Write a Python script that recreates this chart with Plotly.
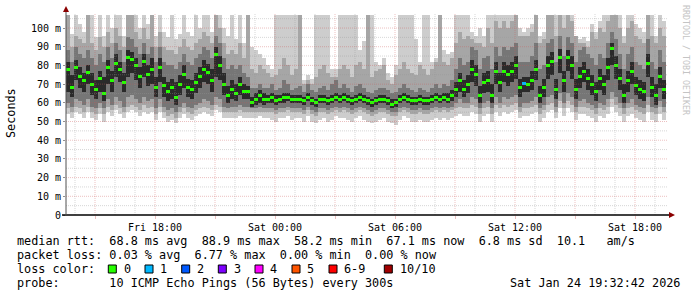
import plotly.graph_objects as go
import pandas as pd

# ---------------- data ----------------
T0 = "2026-01-23 13:33:00"          # graph start (Fri)
SPAN_H = 30                          # graph span in hours
BIN_MIN = 12                         # consolidation step (minutes)

median_ms = [
    78, 68, 79, 74, 72, 76, 70, 67, 73, 65,
    79, 72, 81, 78, 71, 84, 83, 80, 74, 82,
    75, 78, 68, 79, 69, 66, 68, 63, 70, 75,
    68, 67, 71, 74, 78, 76, 72, 86, 80, 70,
    64, 67, 65, 70, 66, 66, 60, 62, 64, 62,
    62, 63, 61, 62, 63, 63, 62, 62, 62, 61,
    63, 61, 60, 62, 62, 61, 62, 63, 62, 63,
    62, 61, 62, 63, 62, 61, 60, 61, 62, 62,
    61, 59, 60, 62, 63, 62, 61, 61, 62, 61,
    61, 62, 63, 62, 63, 62, 64, 67, 72, 67,
    70, 78, 75, 64, 71, 72, 64, 77, 71, 77,
    75, 77, 80, 68, 70.5, 70, 72, 78, 64, 68,
    80, 82, 67, 84, 72, 84, 80, 67, 74, 77,
    73, 70, 66, 73, 70, 79, 89, 80, 73, 64,
    72, 77, 69, 67, 66, 81, 68, 64, 74, 67,
]

# number of lost pings (of 10) per step
loss = [
    0, 0, 0, 0, 0, 0, 0, 0, 0, 0,  0, 0, 0, 0, 0, 0, 0, 0, 0, 0,
    0, 0, 0, 0, 0, 0, 0, 0, 0, 0,  0, 0, 0, 0, 0, 0, 0, 0, 0, 0,
    0, 0, 0, 0, 0, 0, 0, 0, 0, 0,  0, 0, 0, 0, 0, 0, 0, 0, 0, 0,
    0, 0, 0, 0, 0, 0, 0, 0, 0, 0,  0, 0, 0, 0, 0, 0, 0, 0, 0, 0,
    0, 0, 0, 0, 0, 0, 0, 0, 0, 0,  0, 0, 0, 0, 0, 0, 0, 0, 0, 0,
    0, 0, 0, 0, 0, 0, 0, 0, 0, 0,  0, 0, 0, 0, 1, 0, 0, 0, 0, 0,
    0, 0, 0, 0, 0, 0, 0, 0, 0, 0,  0, 0, 0, 0, 0, 0, 0, 0, 0, 0,
    0, 0, 0, 0, 0, 0, 0, 0, 0, 0,
]

# smoke: sorted ping pairs (outer -> inner), ms
p1_lo = [
    54, 52, 55, 54, 52, 55, 52, 51, 54, 50,
    55, 53, 56, 54, 52, 55, 56, 55, 53, 55,
    54, 55, 51, 55, 52, 50, 51, 49, 52, 54,
    52, 51, 53, 54, 55, 54, 53, 56, 55, 52,
    52, 52, 52, 53, 52, 52, 52, 52, 53, 52,
    52, 51, 50, 52, 52, 53, 51, 52, 52, 50,
    53, 50, 49, 51, 52, 50, 51, 53, 52, 52,
    51, 50, 52, 53, 51, 50, 49, 50, 51, 52,
    50, 49, 48, 51, 53, 52, 50, 50, 51, 50,
    50, 51, 52, 51, 52, 51, 52, 53, 54, 53,
    53, 55, 54, 50, 53, 54, 50, 55, 53, 55,
    54, 55, 56, 52, 53, 53, 54, 55, 50, 52,
    55, 56, 52, 57, 53, 57, 55, 51, 54, 54,
    53, 52, 50, 53, 52, 54, 58, 55, 53, 50,
    53, 54, 52, 51, 50, 55, 51, 50, 54, 51,
]
p1_hi = [
    107, 97, 107, 102, 98, 107, 107, 95, 107, 96,
    107, 100, 107, 107, 96, 107, 107, 107, 100, 107,
    102, 107, 96, 107, 98, 95, 107, 94, 97, 107,
    98, 96, 107, 100, 107, 107, 98, 107, 107, 100,
    96, 107, 94, 107, 92, 107, 90, 88, 86, 84,
    80, 78, 107, 107, 107, 107, 107, 107, 107, 72,
    75, 73, 107, 107, 107, 107, 78, 78, 107, 107,
    107, 107, 107, 88, 93, 107, 107, 82, 80, 84,
    76, 74, 80, 107, 107, 107, 107, 94, 82, 107,
    107, 82, 84, 107, 88, 86, 87, 107, 107, 107,
    107, 98, 96, 100, 96, 107, 107, 107, 107, 107,
    107, 107, 107, 100, 98, 100, 102, 107, 96, 98,
    107, 107, 107, 107, 107, 107, 107, 96, 94, 95,
    93, 102, 98, 104, 107, 107, 107, 107, 107, 96,
    107, 107, 102, 100, 98, 107, 107, 96, 107, 104,
]
p2_lo = [
    57, 55, 58, 57, 55, 58, 55, 54, 57, 54,
    58, 56, 59, 57, 55, 58, 59, 58, 56, 59,
    57, 58, 54, 58, 55, 53, 54, 52, 55, 57,
    55, 54, 56, 57, 58, 57, 56, 59, 58, 55,
    55, 55, 55, 56, 55, 55, 55, 55, 55, 55,
    55, 55, 54, 55, 55, 56, 55, 55, 55, 54,
    56, 54, 53, 55, 55, 54, 55, 56, 55, 56,
    55, 54, 55, 56, 55, 54, 53, 54, 55, 55,
    54, 53, 53, 55, 56, 55, 54, 54, 55, 54,
    54, 55, 56, 55, 56, 55, 56, 57, 58, 57,
    57, 59, 58, 54, 57, 58, 54, 59, 57, 59,
    58, 59, 60, 55, 57, 57, 58, 59, 54, 56,
    59, 60, 55, 61, 57, 61, 59, 55, 58, 58,
    57, 56, 54, 57, 56, 58, 62, 59, 57, 54,
    57, 58, 56, 55, 54, 59, 55, 54, 58, 55,
]
p2_hi = [
    107, 90, 96, 94, 92, 107, 92, 88, 95, 90,
    98, 92, 100, 96, 90, 107, 107, 98, 94, 100,
    94, 107, 90, 98, 90, 88, 88, 86, 90, 94,
    90, 88, 92, 94, 98, 96, 92, 107, 100, 92,
    86, 88, 86, 92, 84, 107, 78, 76, 80, 78,
    76, 74, 75, 78, 84, 80, 75, 78, 107, 70,
    72, 70, 74, 78, 80, 76, 74, 74, 78, 80,
    78, 74, 80, 82, 78, 107, 74, 77, 78, 80,
    72, 70, 75, 78, 82, 78, 76, 75, 80, 78,
    75, 78, 82, 107, 82, 80, 84, 92, 98, 94,
    96, 94, 92, 92, 90, 100, 92, 104, 100, 104,
    100, 104, 107, 96, 96, 96, 98, 107, 92, 94,
    107, 107, 96, 107, 100, 107, 104, 96, 92, 92,
    90, 98, 94, 100, 98, 104, 107, 107, 100, 92,
    100, 104, 96, 94, 92, 107, 96, 92, 100, 96,
]
p3_lo = [
    60, 58, 62, 61, 59, 62, 58, 57, 60, 57,
    62, 59, 63, 61, 58, 63, 64, 62, 60, 63,
    61, 62, 57, 62, 58, 56, 57, 55, 58, 60,
    58, 57, 59, 60, 62, 61, 59, 63, 62, 58,
    57, 58, 58, 59, 58, 58, 57, 57, 58, 57,
    57, 57, 56, 57, 57, 58, 57, 57, 57, 56,
    58, 56, 55, 57, 57, 56, 57, 58, 57, 58,
    57, 56, 57, 58, 57, 56, 55, 56, 57, 57,
    56, 55, 55, 57, 58, 57, 56, 56, 57, 56,
    56, 57, 58, 57, 58, 57, 58, 60, 62, 60,
    60, 63, 62, 57, 60, 61, 57, 63, 60, 63,
    62, 63, 64, 58, 60, 60, 61, 63, 57, 59,
    63, 64, 58, 65, 60, 65, 63, 58, 61, 62,
    60, 59, 57, 60, 59, 62, 66, 63, 60, 57,
    60, 62, 59, 58, 57, 63, 58, 57, 61, 58,
]
p3_hi = [
    88, 82, 90, 86, 84, 88, 84, 80, 86, 82,
    90, 84, 92, 88, 82, 95, 94, 90, 86, 92,
    86, 90, 82, 90, 82, 80, 80, 78, 82, 86,
    82, 80, 84, 86, 90, 88, 84, 96, 92, 84,
    78, 80, 78, 80, 76, 74, 68, 68, 70, 68,
    68, 70, 67, 68, 72, 70, 67, 68, 69, 66,
    70, 67, 66, 68, 69, 67, 70, 72, 68, 70,
    68, 66, 69, 70, 68, 66, 65, 67, 68, 68,
    67, 65, 66, 68, 70, 68, 67, 66, 68, 67,
    66, 68, 70, 68, 70, 69, 72, 78, 84, 80,
    82, 90, 88, 78, 84, 85, 78, 90, 85, 90,
    88, 90, 92, 82, 82, 82, 85, 92, 78, 80,
    92, 94, 82, 96, 85, 95, 92, 82, 88, 90,
    86, 84, 80, 86, 84, 92, 98, 94, 86, 78,
    86, 90, 82, 80, 78, 94, 82, 78, 88, 82,
]
p4_lo = [
    66, 63, 72, 68, 66, 70, 64, 62, 66, 61,
    70, 66, 74, 71, 66, 74, 76, 72, 68, 74,
    69, 70, 63, 71, 63, 61, 62, 59, 64, 68,
    63, 62, 65, 68, 71, 70, 66, 74, 72, 64,
    60, 62, 61, 64, 62, 62, 58, 59, 60, 59,
    60, 60, 59, 60, 60, 61, 60, 60, 60, 59,
    61, 59, 58, 60, 60, 59, 60, 61, 60, 61,
    60, 59, 60, 61, 60, 59, 58, 59, 60, 60,
    59, 57, 58, 60, 61, 60, 59, 59, 60, 59,
    59, 60, 61, 60, 61, 60, 61, 63, 66, 63,
    65, 71, 69, 60, 65, 66, 60, 70, 66, 71,
    69, 71, 73, 63, 66, 66, 67, 72, 60, 63,
    73, 75, 62, 76, 66, 77, 73, 62, 68, 71,
    67, 64, 61, 67, 64, 72, 80, 73, 67, 60,
    66, 70, 64, 62, 61, 74, 63, 59, 68, 62,
]
p4_hi = [
    82, 75, 83, 79, 76, 80, 76, 72, 77, 74,
    83, 77, 86, 82, 76, 88, 87, 84, 79, 86,
    80, 84, 74, 84, 74, 71, 73, 71, 75, 80,
    73, 72, 76, 79, 83, 81, 78, 90, 85, 76,
    69, 72, 70, 74, 70, 69, 63, 65, 67, 65,
    64, 65, 64, 64, 65, 65, 64, 64, 64, 63,
    65, 63, 62, 64, 64, 63, 64, 65, 64, 65,
    64, 63, 64, 65, 64, 63, 62, 63, 64, 64,
    63, 62, 62, 64, 65, 64, 63, 63, 64, 63,
    63, 64, 65, 64, 65, 65, 67, 71, 76, 72,
    75, 83, 80, 69, 76, 77, 70, 82, 76, 82,
    80, 82, 85, 73, 74, 74, 77, 83, 69, 73,
    85, 87, 73, 89, 77, 88, 85, 73, 79, 82,
    78, 75, 71, 78, 75, 84, 92, 85, 78, 70,
    77, 82, 74, 72, 71, 86, 74, 70, 79, 72,
]

loss_labels = ["0", "1", "2", "3", "4", "5", "6-9", "10/10"]
loss_colors = ["#26ff00", "#00b8ff", "#0059ff", "#7e00ff",
               "#ff00ff", "#ff5500", "#ff0000", "#a00000"]
y_ticks = [0, 10, 20, 30, 40, 50, 60, 70, 80, 90, 100]
y_tick_text = ["0"] + [f"{v} m" for v in y_ticks[1:]]

stat_line1 = "median rtt:  68.8 ms avg  88.9 ms max  58.2 ms min  67.1 ms now  6.8 ms sd  10.1   am/s"
stat_line2 = "packet loss: 0.03 % avg  6.77 % max  0.00 % min  0.00 % now"
probe_line = "probe:       10 ICMP Echo Pings (56 Bytes) every 300s"
stamp = "Sat Jan 24 19:32:42 2026"

# ---------------- figure ----------------
FONT = "DejaVu Sans Mono"
W, H = 697, 297
L, R, T, B = 66, 31, 14, 82
PW, PH = W - L - R, H - T - B


def fx(px):
    return (px - L) / PW


def fy(py):
    return (H - B - py) / PH


def nb(s):
    return s.replace(" ", "\u00a0")


t0 = pd.Timestamp(T0)
t1 = t0 + pd.Timedelta(hours=SPAN_H)
n = len(median_ms)
xs = [t0 + pd.Timedelta(minutes=BIN_MIN * (i + 0.5)) for i in range(n)]
bw = BIN_MIN * 60 * 1000

fig = go.Figure()
layers = [(p1_lo, p1_hi, "#cdcdcd"), (p2_lo, p2_hi, "#a6a6a6"),
          (p3_lo, p3_hi, "#767676"), (p4_lo, p4_hi, "#2a2a2a")]
for lo, hi, col in layers:
    fig.add_trace(go.Bar(x=xs, base=lo, y=[h - l for l, h in zip(lo, hi)],
                         width=bw, marker=dict(color=col, line=dict(width=0)),
                         hoverinfo="skip"))


def loss_col(k):
    idx = k if k <= 5 else (6 if k < 10 else 7)
    return loss_colors[idx]


fig.add_trace(go.Bar(x=xs, base=[m - 0.8 for m in median_ms], y=[1.6] * n,
                     width=bw, marker=dict(color=[loss_col(k) for k in loss], line=dict(width=0)),
                     hoverinfo="skip"))

shapes = []
MAJ = "rgba(205,90,90,0.38)"
MIN = "rgba(150,150,150,0.38)"
for v in range(5, 106, 5):
    shapes.append(dict(type="line", xref="paper", yref="y", x0=0, x1=fx(668), y0=v, y1=v,
                       line=dict(color=MAJ if v % 10 == 0 else MIN, width=1, dash="1px,1px"),
                       layer="above"))
hours = pd.date_range(t0.ceil("h"), t1, freq="h")
for h in hours:
    shapes.append(dict(type="line", xref="x", yref="paper", x0=h, x1=h, y0=0, y1=1,
                       line=dict(color=MAJ if h.hour % 3 == 0 else MIN, width=1, dash="1px,1px"),
                       layer="above"))
# axes
shapes.append(dict(type="line", xref="paper", yref="paper", x0=fx(62), x1=fx(670), y0=0, y1=0,
                   line=dict(color="#000000", width=1.3), layer="above"))
shapes.append(dict(type="line", xref="paper", yref="paper", x0=0, x1=0, y0=0, y1=fy(11),
                   line=dict(color="#505050", width=1), layer="above"))
shapes.append(dict(type="path", xref="paper", yref="paper",
                   path=f"M{fx(63)},{fy(12)} L{fx(69)},{fy(12)} L{fx(66)},{fy(6)} Z",
                   fillcolor="#8b0000", line=dict(width=0), layer="above"))
shapes.append(dict(type="path", xref="paper", yref="paper",
                   path=f"M{fx(669)},{fy(212)} L{fx(669)},{fy(218)} L{fx(675)},{fy(215)} Z",
                   fillcolor="#8b0000", line=dict(width=0), layer="above"))

annotations = []


def text(px, py, s, size=11.8, anchor="left", color="#000000", angle=0):
    annotations.append(dict(xref="paper", yref="paper", x=fx(px), y=fy(py), text=nb(s),
                            showarrow=False, xanchor=anchor, yanchor="middle",
                            textangle=angle, borderpad=0,
                            font=dict(family=FONT, size=size, color=color)))


text(16, 241, stat_line1)
text(16, 255, stat_line2)
text(16, 269, "loss color:")
box_left = [108.3, 145, 181.7, 218.3, 255, 292, 329, 384.3]
for bx, lab, col in zip(box_left, loss_labels, loss_colors):
    shapes.append(dict(type="rect", xref="paper", yref="paper",
                       x0=fx(bx), x1=fx(bx + 8), y0=fy(273), y1=fy(265),
                       fillcolor=col, line=dict(color="#000000", width=1)))
    text(bx + 14.3, 269, lab)
text(16, 283, probe_line)
text(681, 283, stamp, anchor="right")
text(11, 113, "Seconds", size=11.8, anchor="center", angle=-90)
text(686, 60, "RRDTOOL / TOBI OETIKER", size=8.3, anchor="center", color="#c4c4c4", angle=90)

major = pd.date_range(t0.ceil("3h"), t1, freq="3h")
fig.update_layout(
    width=W, height=H, margin=dict(l=L, r=R, t=T, b=B),
    paper_bgcolor="white", plot_bgcolor="white",
    barmode="overlay", bargap=0, showlegend=False,
    font=dict(family=FONT, color="#000000"),
    shapes=shapes, annotations=annotations,
    xaxis=dict(type="date", range=[t0, t1], showgrid=False, zeroline=False, showline=False,
               tickvals=list(major),
               ticktext=[d.strftime("%a %H:%M") if d.hour % 6 == 0 else "" for d in major],
               ticks="outside", ticklen=3, tickcolor=MAJ, tickfont=dict(size=10, family=FONT)),
    yaxis=dict(range=[0, 107.5], showgrid=False, zeroline=False, showline=False,
               tickvals=y_ticks, ticktext=y_tick_text,
               ticks="outside", ticklen=2, tickcolor="#909090", tickfont=dict(size=10, family=FONT)),
)
fig.write_html("out.html")
